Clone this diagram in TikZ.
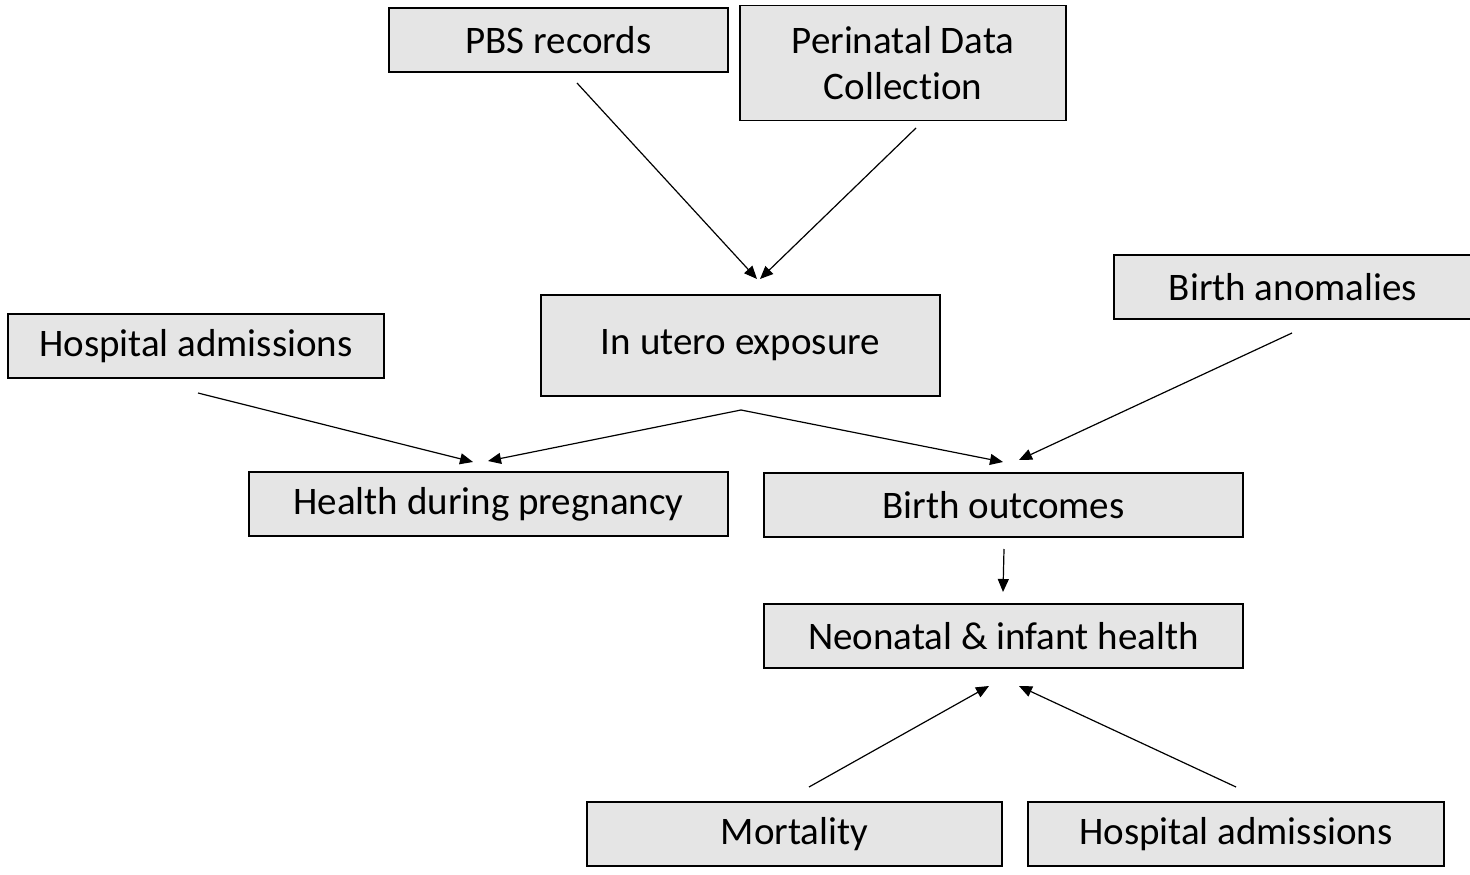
\documentclass[tikz,border=0pt]{standalone}
\usepackage{fontspec}
\setmainfont[Ligatures={NoCommon}]{Carlito}
\usetikzlibrary{arrows.meta}
\begin{document}
\begin{tikzpicture}[x=1pt,y=-1pt,
  box/.style={draw=black,line width=1.8pt,fill=gray!20,inner sep=0pt,font=\fontsize{39}{46}\selectfont,align=center},
  arr/.style={line width=1.2pt,-{Triangle[length=13pt,width=11pt]}}]
\useasboundingbox (0,0) rectangle (1470,875);
\node[box,minimum width=339pt,minimum height=64pt] (pbs) at (558.5,40) {PBS records};
\node[box,minimum width=326pt,minimum height=115pt] (pdc) at (903,63) {Perinatal Data\\Collection};
\node[box,minimum width=376pt,minimum height=64pt] (hospL) at (196,346) {Hospital admissions};
\node[box,minimum width=399pt,minimum height=101pt] (utero) at (740.5,345.5) {In utero exposure};
\node[box,minimum width=358pt,minimum height=64pt] (anom) at (1293,287) {Birth anomalies};
\node[box,minimum width=479pt,minimum height=64pt] (health) at (488.5,504) {Health during pregnancy};
\node[box,minimum width=479pt,minimum height=64pt] (birth) at (1003.5,505) {Birth outcomes};
\node[box,minimum width=479pt,minimum height=64pt] (neo) at (1003.5,636) {Neonatal \& infant health};
\node[box,minimum width=415pt,minimum height=64pt] (mort) at (794.5,834) {Mortality};
\node[box,minimum width=416pt,minimum height=64pt] (hospB) at (1236,834) {Hospital admissions};
\coordinate (pbsS) at (577,83);
\coordinate (pdcS) at (916,128);
\coordinate (uteroN1) at (757,279);
\coordinate (uteroN2) at (760,279);
\coordinate (hospLS) at (198,393);
\coordinate (uteroS) at (741,410);
\coordinate (healthN1) at (473,462);
\coordinate (healthN2) at (488,461);
\coordinate (birthN1) at (1003,462);
\coordinate (birthN2) at (1019,460);
\coordinate (anomS) at (1292,333);
\coordinate (birthS) at (1004,549);
\coordinate (neoN) at (1003,592);
\coordinate (mortN) at (809,787);
\coordinate (hospBN) at (1236,787);
\coordinate (neoS1) at (989,686);
\coordinate (neoS2) at (1019,686);
\draw[arr] (pbsS) -- (uteroN1);
\draw[arr] (pdcS) -- (uteroN2);
\draw[arr] (hospLS) -- (healthN1);
\draw[arr] (uteroS) -- (healthN2);
\draw[arr] (uteroS) -- (birthN1);
\draw[arr] (anomS) -- (birthN2);
\draw[arr] (birthS) -- (neoN);
\draw[arr] (mortN) -- (neoS1);
\draw[arr] (hospBN) -- (neoS2);
\end{tikzpicture}
\end{document}
